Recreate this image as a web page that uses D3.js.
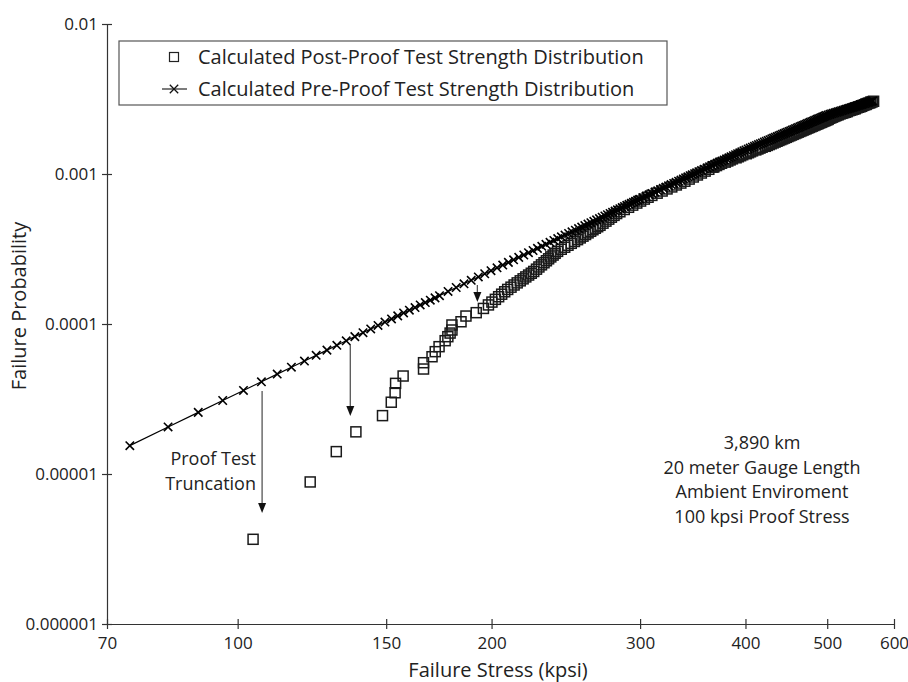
<!DOCTYPE html>
<html>
<head>
<meta charset="utf-8">
<script src="https://cdn.jsdelivr.net/npm/d3@7"></script>
<style>
  html, body { margin: 0; padding: 0; background: #fff; }
  svg { display: block; font-family: "Open Sans", "Noto Sans", sans-serif; }
</style>
</head>
<body>
<svg id="chart" width="908" height="682"></svg>
<script>
// ---------------- data ----------------
const xTicks = [70, 100, 150, 200, 300, 400, 500, 600];
const yTicks = [1e-6, 1e-5, 1e-4, 1e-3, 1e-2];
const yTickLabels = ["0.000001", "0.00001", "0.0001", "0.001", "0.01"];

const legendLabels = [
  "Calculated Post-Proof Test Strength Distribution",
  "Calculated Pre-Proof Test Strength Distribution"
];
const noteLines = ["3,890 km", "20 meter Gauge Length", "Ambient Enviroment", "100 kpsi Proof Stress"];
const truncLabel = ["Proof Test", "Truncation"];

// Pre-proof (x markers + line): failure stress (kpsi) and failure probability
const preStress = [74.5, 82.7, 89.8, 96.0, 101.6, 106.7, 111.4, 115.8, 120.0, 123.9,
  127.6, 131.1, 134.5, 137.7, 140.8, 143.8, 146.7, 149.5, 152.2, 154.8,
  157.3, 159.8, 162.3, 164.6, 166.9, 169.2, 171.4, 173.5,
  177.6, 181.6, 185.5, 189.2, 192.9, 196.3, 199.7, 203.0, 206.2, 209.4, 212.4, 215.4, 218.4, 221.2,
  224.0, 226.7, 229.4, 232.0, 234.6, 237.1, 239.6, 242.0, 244.4, 246.8,
  249.1, 251.4, 253.6, 255.8, 258.0, 260.2, 262.3, 264.4, 266.4, 268.5,
  270.5, 272.5, 274.4, 276.4, 278.3, 280.2, 282.0, 283.9, 285.7, 287.5,
  289.3, 291.1, 292.9, 294.6, 296.3, 298.0, 299.7,
  302.3, 304.9, 307.4, 309.9, 312.4, 314.8, 317.2, 319.6, 321.9, 324.2,
  326.5, 328.8, 331.0, 333.2, 335.4, 337.6, 339.7, 341.8, 343.9, 346.0,
  348.1, 350.1, 352.2,
  354.8, 357.5, 360.1, 362.7, 365.2, 367.7, 370.2, 372.7, 375.1, 377.5,
  379.9, 382.3, 384.6, 387.0, 389.3, 391.5, 393.8, 396.0, 398.3, 400.5,
  402.9, 405.2, 407.6, 409.9, 412.1, 414.4, 416.7, 418.9, 421.1, 423.3,
  425.5, 427.6, 429.8, 431.9, 434.0, 436.2, 438.2, 440.3, 442.4, 444.4,
  446.5, 448.5, 450.5, 452.5, 454.5, 456.5, 458.4, 460.4, 462.3, 464.2,
  466.2, 468.1, 470.0, 471.9, 473.7, 475.6, 477.4, 479.3, 481.1, 482.9,
  484.7, 486.5, 488.3, 490.1, 491.9, 493.7, 495.4, 497.2, 498.9, 501.3,
  503.7, 506.0, 508.4, 510.7, 513.1, 515.4, 517.7, 520.0, 522.3, 524.6,
  526.9, 529.2, 531.5, 533.7, 536.0, 538.2, 540.5, 542.7, 544.9, 547.2,
  549.4, 551.6, 553.8, 556.0, 558.2, 560.4, 562.5, 564.7, 566.3];
const preProb = [1.545e-5, 2.06e-5, 2.575e-5, 3.09e-5, 3.605e-5, 4.12e-5, 4.635e-5, 5.15e-5, 5.665e-5, 6.18e-5,
  6.695e-5, 7.21e-5, 7.725e-5, 8.24e-5, 8.755e-5, 9.27e-5, 9.785e-5, 1.03e-4, 1.0815e-4, 1.133e-4,
  1.1845e-4, 1.236e-4, 1.2875e-4, 1.339e-4, 1.3905e-4, 1.442e-4, 1.4935e-4, 1.545e-4,
  1.648e-4, 1.751e-4, 1.854e-4, 1.957e-4, 2.06e-4, 2.163e-4, 2.266e-4, 2.369e-4, 2.472e-4, 2.575e-4, 2.678e-4, 2.781e-4, 2.884e-4, 2.987e-4,
  3.09e-4, 3.193e-4, 3.296e-4, 3.399e-4, 3.502e-4, 3.605e-4, 3.708e-4, 3.811e-4, 3.914e-4, 4.017e-4,
  4.12e-4, 4.223e-4, 4.326e-4, 4.429e-4, 4.532e-4, 4.635e-4, 4.738e-4, 4.841e-4, 4.944e-4, 5.047e-4,
  5.15e-4, 5.253e-4, 5.356e-4, 5.459e-4, 5.562e-4, 5.665e-4, 5.768e-4, 5.871e-4, 5.974e-4, 6.077e-4,
  6.18e-4, 6.283e-4, 6.386e-4, 6.489e-4, 6.592e-4, 6.695e-4, 6.798e-4,
  6.953e-4, 7.107e-4, 7.262e-4, 7.416e-4, 7.571e-4, 7.725e-4, 7.88e-4, 8.034e-4, 8.189e-4, 8.343e-4,
  8.498e-4, 8.652e-4, 8.807e-4, 8.961e-4, 9.116e-4, 9.27e-4, 9.425e-4, 9.579e-4, 9.734e-4, 9.888e-4,
  1.0043e-3, 1.0197e-3, 1.0352e-3,
  1.0558e-3, 1.0764e-3, 1.097e-3, 1.1176e-3, 1.1382e-3, 1.1588e-3, 1.1794e-3, 1.2e-3, 1.2206e-3, 1.2412e-3,
  1.2618e-3, 1.2824e-3, 1.303e-3, 1.3236e-3, 1.3442e-3, 1.3648e-3, 1.3854e-3, 1.406e-3, 1.4266e-3, 1.4472e-3,
  1.4678e-3, 1.4884e-3, 1.509e-3, 1.5296e-3, 1.5502e-3, 1.5708e-3, 1.5914e-3, 1.612e-3, 1.6326e-3, 1.6532e-3,
  1.6738e-3, 1.6944e-3, 1.715e-3, 1.7356e-3, 1.7562e-3, 1.7768e-3, 1.7974e-3, 1.818e-3, 1.8386e-3, 1.8592e-3,
  1.8798e-3, 1.9004e-3, 1.921e-3, 1.9416e-3, 1.9622e-3, 1.9828e-3, 2.0034e-3, 2.024e-3, 2.0446e-3, 2.0652e-3,
  2.0858e-3, 2.1064e-3, 2.127e-3, 2.1476e-3, 2.1682e-3, 2.1888e-3, 2.2094e-3, 2.23e-3, 2.2506e-3, 2.2712e-3,
  2.2918e-3, 2.3124e-3, 2.333e-3, 2.3536e-3, 2.3742e-3, 2.3948e-3, 2.4154e-3, 2.436e-3, 2.4566e-3, 2.4772e-3,
  2.4978e-3, 2.5184e-3, 2.539e-3, 2.5596e-3, 2.5802e-3, 2.6008e-3, 2.6214e-3, 2.642e-3, 2.6626e-3, 2.6832e-3,
  2.7038e-3, 2.7244e-3, 2.745e-3, 2.7656e-3, 2.7862e-3, 2.8068e-3, 2.8274e-3, 2.848e-3, 2.8686e-3, 2.8892e-3,
  2.9098e-3, 2.9304e-3, 2.951e-3, 2.9716e-3, 2.9922e-3, 3.0128e-3, 3.0334e-3, 3.054e-3, 3.0694e-3];

// Post-proof (square markers)
const postStress = [104.3, 121.9, 130.9, 138.1, 148.5, 152.1, 153.7, 153.9, 157.1, 166.1,
  166.1, 170.0, 171.5, 173.3, 176.2, 177.5, 178.6, 179.5, 179.5, 184.0,
  186.5, 191.8, 195.6, 198.3, 200.2, 202.1, 203.9, 205.6, 207.3, 209.0,
  210.9, 212.7, 214.5, 216.3, 218.0, 219.6, 221.3, 222.9, 224.4, 226.1,
  227.6, 229.2, 230.8, 232.3, 233.7, 235.1, 236.6, 237.9, 239.5, 241.9,
  244.2, 246.4, 248.6, 250.8, 252.9, 254.8, 256.7, 258.5, 260.3, 262.1,
  263.8, 265.5, 267.2, 268.9, 271.1, 273.3, 275.4, 277.4, 279.4, 281.4,
  283.9, 287.3, 290.7, 294.0, 297.3, 300.4, 303.5, 306.6, 309.8, 314.3,
  318.6, 322.9, 327.1, 331.2, 335.3, 339.0, 343.0, 346.9, 350.8, 354.6,
  358.3, 361.9, 366.0,
  367.0, 369.6, 372.1, 374.7, 378.6, 381.1, 383.6,
  386.0, 389.9, 392.3, 394.7, 397.0, 400.9, 403.3, 405.5, 407.8, 411.4,
  413.8, 416.2, 418.6, 422.2, 424.5, 426.8, 429.1, 431.4, 433.7, 436.0,
  438.2, 440.5, 442.7, 444.9, 447.1, 449.2, 451.4, 453.5, 455.6, 457.8,
  459.9, 461.9, 464.0, 466.1, 468.1, 470.2, 472.2, 474.2, 476.2, 478.2,
  480.1, 482.1, 484.1, 486.0, 487.9, 489.8, 491.8, 493.6, 495.5, 497.4,
  499.3, 501.1, 501.5, 503.4, 505.2, 507.0, 508.8, 510.6, 512.4, 514.8,
  515.8, 518.2, 520.6, 523.0, 525.4, 527.7, 528.1, 530.4, 532.8, 535.1,
  537.4, 539.8, 540.0, 542.3, 544.6, 546.8, 549.1, 549.2, 551.5, 553.7,
  556.0, 556.0, 558.2, 560.4, 562.6, 563.2, 565.4, 567.5];
const postProb = [3.67e-6, 8.85e-6, 1.41e-5, 1.91e-5, 2.45e-5, 3.01e-5, 3.48e-5, 4.02e-5, 4.5e-5, 5.01e-5,
  5.52e-5, 6.05e-5, 6.54e-5, 7.06e-5, 7.74e-5, 8.23e-5, 8.7e-5, 9.12e-5, 9.85e-5, 1.035e-4,
  1.13e-4, 1.19e-4, 1.27e-4, 1.34e-4, 1.40e-4, 1.46e-4, 1.52e-4, 1.58e-4, 1.64e-4, 1.70e-4,
  1.76e-4, 1.82e-4, 1.88e-4, 1.94e-4, 2.00e-4, 2.06e-4, 2.12e-4, 2.18e-4, 2.24e-4, 2.32e-4,
  2.40e-4, 2.48e-4, 2.56e-4, 2.64e-4, 2.72e-4, 2.80e-4, 2.88e-4, 2.96e-4, 3.05e-4, 3.15e-4,
  3.25e-4, 3.35e-4, 3.45e-4, 3.55e-4, 3.65e-4, 3.75e-4, 3.85e-4, 3.95e-4, 4.05e-4, 4.15e-4,
  4.25e-4, 4.35e-4, 4.45e-4, 4.55e-4, 4.70e-4, 4.85e-4, 5.00e-4, 5.15e-4, 5.30e-4, 5.45e-4,
  5.60e-4, 5.80e-4, 6.00e-4, 6.20e-4, 6.40e-4, 6.60e-4, 6.80e-4, 7.00e-4, 7.20e-4, 7.45e-4,
  7.70e-4, 7.95e-4, 8.20e-4, 8.45e-4, 8.70e-4, 8.95e-4, 9.25e-4, 9.55e-4, 9.85e-4, 1.015e-3,
  1.045e-3, 1.075e-3, 1.11e-3,
  1.1176e-3, 1.1382e-3, 1.1588e-3, 1.1794e-3, 1.2e-3, 1.2206e-3, 1.2412e-3,
  1.2618e-3, 1.2824e-3, 1.303e-3, 1.3236e-3, 1.3442e-3, 1.3648e-3, 1.3854e-3, 1.406e-3, 1.4266e-3, 1.4472e-3,
  1.4678e-3, 1.4884e-3, 1.509e-3, 1.5296e-3, 1.5502e-3, 1.5708e-3, 1.5914e-3, 1.612e-3, 1.6326e-3, 1.6532e-3,
  1.6738e-3, 1.6944e-3, 1.715e-3, 1.7356e-3, 1.7562e-3, 1.7768e-3, 1.7974e-3, 1.818e-3, 1.8386e-3, 1.8592e-3,
  1.8798e-3, 1.9004e-3, 1.921e-3, 1.9416e-3, 1.9622e-3, 1.9828e-3, 2.0034e-3, 2.024e-3, 2.0446e-3, 2.0652e-3,
  2.0858e-3, 2.1064e-3, 2.127e-3, 2.1476e-3, 2.1682e-3, 2.1888e-3, 2.2094e-3, 2.23e-3, 2.2506e-3, 2.2712e-3,
  2.2918e-3, 2.3124e-3, 2.333e-3, 2.3536e-3, 2.3742e-3, 2.3948e-3, 2.4154e-3, 2.436e-3, 2.4566e-3, 2.4772e-3,
  2.4978e-3, 2.5184e-3, 2.539e-3, 2.5596e-3, 2.5802e-3, 2.6008e-3, 2.6214e-3, 2.642e-3, 2.6626e-3, 2.6832e-3,
  2.7038e-3, 2.7244e-3, 2.745e-3, 2.7656e-3, 2.7862e-3, 2.8068e-3, 2.8274e-3, 2.848e-3, 2.8686e-3, 2.8892e-3,
  2.9098e-3, 2.9304e-3, 2.951e-3, 2.9716e-3, 2.9922e-3, 3.0128e-3, 3.0334e-3, 3.054e-3];

// Arrow annotations: stress position, probability at top and at tip
const arrowStress = [106.9, 136.0, 192.4];
const arrowTopProb = [3.57e-5, 7.24e-5, 1.82e-4];
const arrowTipProb = [5.5e-6, 2.44e-5, 1.40e-4];

// ---------------- drawing ----------------
const svg = d3.select("#chart");
const W = 908, H = 682;
svg.append("rect").attr("width", W).attr("height", H).attr("fill", "#fff");

const x = d3.scaleLog().domain([70, 600]).range([107, 894]);
const y = d3.scaleLog().domain([1e-6, 1e-2]).range([624, 24]);

const axisColor = "#333";
const textColor = "#222";
const FONT = "Open Sans";

// X axis
const gx = svg.append("g").attr("transform", `translate(0,${y(1e-6)})`)
  .call(d3.axisBottom(x).tickValues(xTicks).tickFormat(d => String(d)).tickSizeInner(4).tickSizeOuter(0));
gx.select(".domain").attr("stroke", axisColor).attr("stroke-width", 1.2);
gx.selectAll(".tick line").attr("stroke", axisColor).attr("y1", -5).attr("y2", 5).attr("stroke-width", 1.2);
gx.selectAll(".tick text").attr("fill", textColor).attr("font-size", 17).attr("font-family", FONT)
  .attr("y", 13).attr("dy", "0.71em");

// Y axis
const gy = svg.append("g").attr("transform", `translate(${x(70)},0)`)
  .call(d3.axisLeft(y).tickValues(yTicks).tickFormat((d, i) => yTickLabels[i]).tickSizeInner(4).tickSizeOuter(0));
gy.select(".domain").attr("stroke", axisColor).attr("stroke-width", 1.2);
gy.selectAll(".tick line").attr("stroke", axisColor).attr("x1", -5).attr("x2", 5).attr("stroke-width", 1.2);
gy.selectAll(".tick text").attr("fill", textColor).attr("font-size", 17).attr("font-family", FONT)
  .attr("x", -9).attr("dy", "0.35em");

// Axis titles
svg.append("text").attr("x", 498).attr("y", 677).attr("text-anchor", "middle")
  .attr("font-size", 20).attr("fill", textColor).text("Failure Stress (kpsi)");
svg.append("text").attr("transform", "translate(26,306) rotate(-90)").attr("text-anchor", "middle")
  .attr("font-size", 20).attr("fill", textColor).text("Failure Probability");

// Series
const pre = preStress.map((s, i) => ({ s, p: preProb[i] }));
const post = postStress.map((s, i) => ({ s, p: postProb[i] }));

const sq = 10;
svg.append("g").selectAll("rect").data(post).join("rect")
  .attr("x", d => x(d.s) - sq / 2).attr("y", d => y(d.p) - sq / 2)
  .attr("width", sq).attr("height", sq)
  .attr("fill", "none").attr("stroke", "#1a1a1a").attr("stroke-width", 1.5);

svg.append("path").datum(pre)
  .attr("d", d3.line().x(d => x(d.s)).y(d => y(d.p)))
  .attr("fill", "none").attr("stroke", "#000").attr("stroke-width", 1.2);

const xm = 4.2;
const crossPath = (cx, cy) => `M${cx - xm},${cy - xm}L${cx + xm},${cy + xm}M${cx - xm},${cy + xm}L${cx + xm},${cy - xm}`;
svg.append("g").selectAll("path").data(pre).join("path")
  .attr("d", d => crossPath(x(d.s), y(d.p)))
  .attr("stroke", "#000").attr("stroke-width", 1.6).attr("fill", "none");

// Arrows
const arrows = arrowStress.map((s, i) => ({ s, top: arrowTopProb[i], tip: arrowTipProb[i] }));
const ag = svg.append("g");
arrows.forEach(a => {
  const ax = x(a.s), y1 = y(a.top), y2 = y(a.tip);
  ag.append("line").attr("x1", ax).attr("x2", ax).attr("y1", y1).attr("y2", y2 - 8)
    .attr("stroke", "#555").attr("stroke-width", 1.3);
  ag.append("path").attr("d", `M${ax - 4},${y2 - 10}L${ax + 4},${y2 - 10}L${ax},${y2}Z`).attr("fill", "#111");
});

// Truncation label
truncLabel.forEach((t, i) => {
  svg.append("text").attr("x", 256).attr("y", 465 + i * 24.6).attr("text-anchor", "end")
    .attr("font-size", 18).attr("fill", textColor).text(t);
});

// Note text block
noteLines.forEach((t, i) => {
  svg.append("text").attr("x", 762).attr("y", 449 + i * 24.6).attr("text-anchor", "middle")
    .attr("font-size", 18).attr("fill", textColor).text(t);
});

// Legend
const lg = svg.append("g");
lg.append("rect").attr("x", 119).attr("y", 41).attr("width", 548).attr("height", 64)
  .attr("fill", "#fff").attr("stroke", "#555").attr("stroke-width", 1.2);
lg.append("rect").attr("x", 174 - 4.5).attr("y", 57 - 4.5).attr("width", 9).attr("height", 9)
  .attr("fill", "none").attr("stroke", "#222").attr("stroke-width", 1.2);
lg.append("line").attr("x1", 162).attr("x2", 187).attr("y1", 89).attr("y2", 89).attr("stroke", "#111").attr("stroke-width", 1.1);
lg.append("path").attr("d", crossPath(174, 89)).attr("stroke", "#111").attr("stroke-width", 1.3);
lg.selectAll("text.lab").data(legendLabels).join("text").attr("class", "lab")
  .attr("x", 198).attr("y", (d, i) => 64 + i * 32).attr("font-size", 20).attr("fill", textColor).text(d => d);
</script>
</body>
</html>
